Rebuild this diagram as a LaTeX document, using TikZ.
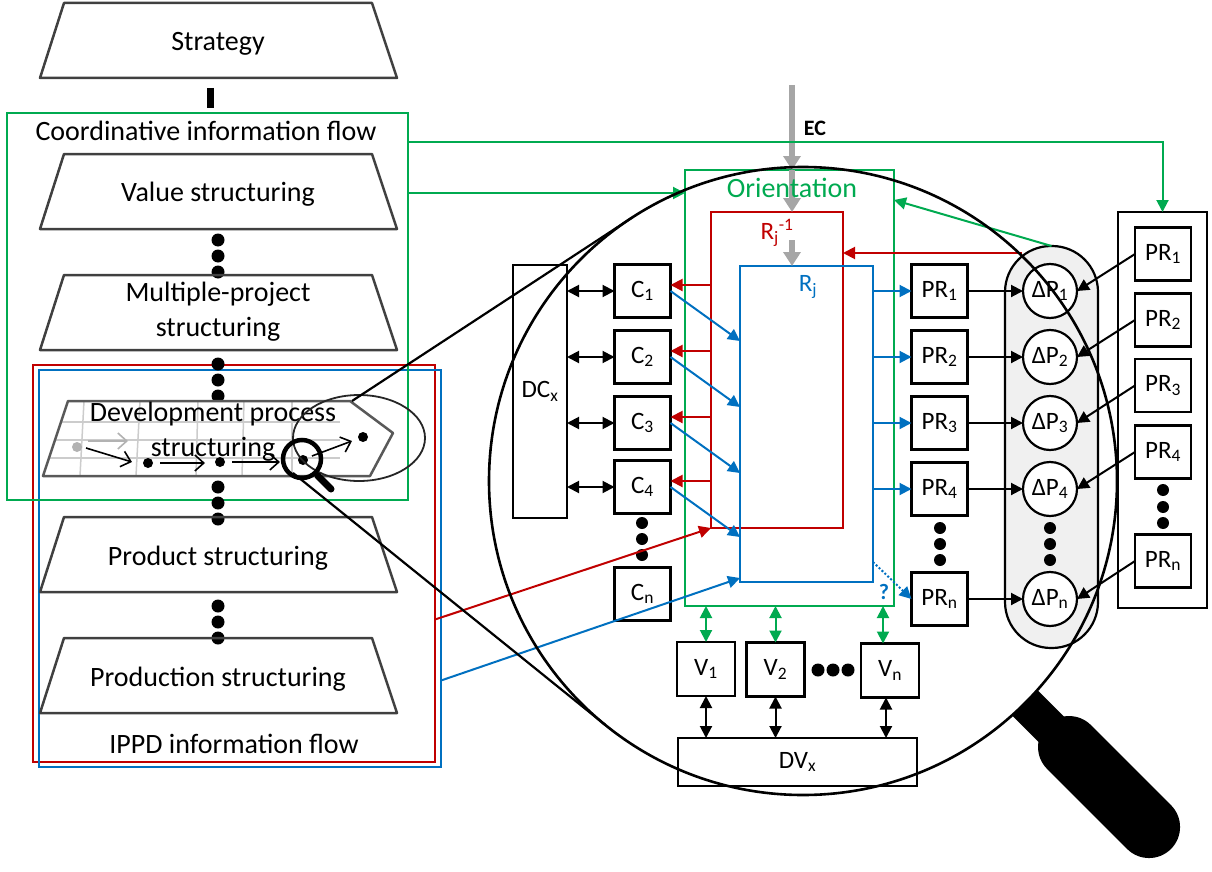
\documentclass[tikz,border=0pt]{standalone}
\usepackage{fontspec}
\setmainfont{Carlito}
\usetikzlibrary{arrows.meta}
\definecolor{flowgreen}{RGB}{0,170,80}
\definecolor{flowred}{RGB}{192,0,0}
\definecolor{flowblue}{RGB}{0,112,192}
\definecolor{ecgray}{RGB}{166,166,166}
% one level of the structuring stack: name, top y, text y, text
\newcommand{\levelshape}[4]{%
  \draw[levelline] (64,#2) -- (372,#2) -- (397,#2+75) -- (40,#2+75) -- cycle;
  \node[biglbl] (#1) at (218,#3) {#4};}

\begin{document}
\begin{tikzpicture}[x=1pt,y=-1pt,
  biglbl/.style={font=\fontsize{28}{35}\selectfont,align=center,inner sep=0pt},
  boxfont/.style={font=\fontsize{25}{29}\selectfont},
  smallbox/.style={draw,line width=2.2pt,minimum width=56pt,minimum height=53pt,inner sep=0pt,outer sep=0pt,boxfont},
  panel/.style={draw,line width=2.2pt,inner sep=0pt,outer sep=0pt},
  delta/.style={circle,draw,line width=2.2pt,fill=white,minimum size=54pt,inner sep=0pt,outer sep=0pt,boxfont},
  levelline/.style={draw=black!75,line width=2.5pt,line join=round},
  bigdot/.style={circle,fill,inner sep=0pt,minimum size=13pt},
  link/.style={line width=2pt},
  oneway/.style={-{Triangle[length=12pt,width=12pt]}},
  twoway/.style={{Triangle[length=12pt,width=12pt]}-{Triangle[length=12pt,width=12pt]}},
  ecarrow/.style={draw=ecgray,line width=6pt,-{Triangle[length=14pt,width=17pt]}},
  sketch/.style={line width=1.6pt,-{Straight Barb[length=9pt,width=16pt]}}]
\useasboundingbox (0,0) rectangle (1212,872);

% left stack
\node[panel,draw=flowred,minimum width=402pt,minimum height=397pt] (ippdred) at (234,563.5) {};
\node[panel,draw=flowblue,minimum width=402pt,minimum height=397pt] (ippdblue) at (240,568.5) {};
\node[biglbl] (ippd) at (234,744) {IPPD information flow};
\node[panel,draw=flowgreen,minimum width=401pt,minimum height=387pt] (coordbox) at (207.5,306.5) {};
\node[biglbl] (coord) at (206,131) {Coordinative information flow};

\levelshape{strategy}{3}{44}{Strategy}
\coordinate (stratfoot) at (210,88);
\coordinate (coordhead) at (210,108);
\draw[line width=7pt] (stratfoot) -- (coordhead);
\levelshape{value}{154}{194}{Value structuring}
\foreach \y in {240,256,272} \node[bigdot] (vdot\y) at (218,\y) {};
\levelshape{multi}{275}{312}{Multiple-project\\structuring}
\foreach \y in {364,380,396} \node[bigdot] (mdot\y) at (218,\y) {};

% development process level with its little process sketch
\fill[white] (68,401) -- (350,401) -- (393,433) -- (370,476) -- (43,476) -- cycle;
\foreach \y/\xl in {422/61,440/55,458/49}
  \draw[black!20,line width=1.5pt] (\xl,\y) -- (340,\y);
\foreach \xa/\xb in {84/80,140/136,198/196,244/242,292/292}
  \draw[black!20,line width=1.5pt] (\xa,401) -- (\xb,476);
\draw[black!65,line width=2.5pt,line join=round] (68,401) -- (350,401) -- (393,433) -- (370,476) -- (43,476) -- cycle;
\fill[black!30] (77,447) circle (5);
\draw[sketch,black!30] (88,441) -- (128,441);
\draw[sketch] (86,448) -- (132,462);
\fill (148,463) circle (5);
\draw[sketch] (160,463) -- (205,463);
\fill (220,462) circle (5);
\draw[sketch] (232,462) -- (280,462);
\fill (303,460) circle (5);
\draw[sketch] (312,456) -- (352,441);
\fill (363,437) circle (5);
\node[biglbl] (devproc) at (213,432) {Development process\\structuring};
\draw[line width=1.8pt,black!85] (359,438) ellipse [x radius=66, y radius=43];
\draw[line width=4.5pt] (302,459) circle (19);
\draw[line width=7pt,line cap=round] (318,476) -- (331,489);

\foreach \y in {487,503,519} \node[bigdot] (ddot\y) at (218,\y) {};
\levelshape{product}{517}{558}{Product structuring}
\foreach \y in {606,622,638} \node[bigdot] (pdot\y) at (218,\y) {};
\levelshape{production}{638}{679}{Production structuring}

% orientation and reference frames
\coordinate (ecsrc) at (792,85);
\coordinate (ecmid) at (792,240);
\node[panel,draw=flowgreen,line width=2.2pt,minimum width=209pt,minimum height=436pt] (orient) at (789.5,388) {};
\node[panel,draw=flowred,line width=2.2pt,minimum width=132pt,minimum height=316pt] (rinv) at (777,370) {};
\node[panel,draw=flowblue,line width=2.2pt,minimum width=133pt,minimum height=316pt] (rj) at (806.5,424) {};
\draw[ecarrow] (ecsrc) -- (ecsrc |- orient.north);
\draw[ecarrow] (ecsrc |- orient.north) -- (ecsrc |- rinv.north);
\draw[ecarrow] (ecmid) -- (ecmid |- rj.north);
\node[font=\bfseries\fontsize{22}{26}\selectfont] (ec) at (815,128) {EC};
\node[biglbl,text=flowgreen] (orientlbl) at (792,188) {Orientation};
\node[boxfont,text=flowred] (rinvlbl) at (777,233) {R\textsubscript{j}\textsuperscript{-1}};
\node[boxfont,text=flowblue] (rjlbl) at (808,287) {R\textsubscript{j}};

% design constraints
\node[panel,minimum width=54pt,minimum height=253pt,boxfont] (dcx) at (540,391.5) {DC\textsubscript{x}};
\foreach \i/\y in {1/291,2/357,3/423,4/487}
  \node[smallbox] (c\i) at (642.5,\y) {C\textsubscript{\i}};
\node[smallbox] (cn) at (642.5,594) {C\textsubscript{n}};
\foreach \y in {523,539,555} \node[bigdot,minimum size=12pt] (cdot\y) at (642,\y) {};
\foreach \i in {1,2,3,4} {
  \draw[link,twoway] (dcx.east |- c\i) -- (c\i.west);
  \path (c\i.east) ++(0,-6) coordinate (cr\i);
  \draw[link,oneway,flowred] (rinv.west |- cr\i) -- (cr\i);
  \path (c\i.east) ++(0,50) coordinate (cb\i);
  \draw[link,oneway,flowblue] (c\i.east) -- (rj.west |- cb\i);
}

% properties and deviations
\node[panel,fill=black!6,rounded corners=46pt,minimum width=93pt,minimum height=402pt] (dpcol) at (1051.5,447) {};
\foreach \i/\y in {1/291,2/357,3/423,4/489} {
  \node[smallbox] (pr\i) at (939.5,\y) {PR\textsubscript{\i}};
  \node[delta] (dp\i) at (1050,\y) {ΔP\textsubscript{\i}};
}
\node[smallbox] (prn) at (939.5,599) {PR\textsubscript{n}};
\node[delta] (dpn) at (1050,599) {ΔP\textsubscript{n}};
\foreach \y in {528,544,560} {
  \node[bigdot,minimum size=12pt] (prdot\y) at (940,\y) {};
  \node[bigdot,minimum size=12pt] (dpdot\y) at (1050,\y) {};
}
\node[panel,minimum width=89pt,minimum height=396pt] (reqcol) at (1162.5,410) {};
\foreach \i/\y in {1/254,2/320,3/385.5,4/452}
  \node[smallbox] (rq\i) at (1163,\y) {PR\textsubscript{\i}};
\node[smallbox] (rqn) at (1163,561) {PR\textsubscript{n}};
\foreach \y in {490,507,523} \node[bigdot,minimum size=12pt] (rqdot\y) at (1163,\y) {};

\foreach \i in {1,2,3,4,n} {
  \draw[link,oneway] (pr\i.east) -- (dp\i.west);
  \draw[link,oneway] (rq\i.west) -- (dp\i.east);
}
\foreach \i in {1,2,3,4}
  \draw[link,oneway,flowblue] (rj.east |- pr\i) -- (pr\i.west);
\path (rj.south east) ++(0,-20) coordinate (rjq);
\draw[link,oneway,flowblue,dotted] (rjq) -- (prn.west);
\node[font=\bfseries\fontsize{22}{26}\selectfont,text=flowblue] (qmark) at (884,592) {?};

% feedback and flows
\coordinate (dpred) at (1022,253);
\draw[link,oneway,flowred] (dpred) -- (rinv.east |- dpred);
\path (orient.north east) ++(0,30) coordinate (orin);
\draw[link,oneway,flowgreen] (dpcol.north) -- (orin);
\path (coordbox.north east) ++(0,29) coordinate (cf1);
\draw[link,oneway,flowgreen] (cf1) -| (reqcol.north);
\path (coordbox.north east) ++(0,80) coordinate (cf2);
\draw[link,oneway,flowgreen] (cf2) -- (orient.west |- cf2);
\path (ippdred.east) ++(0,56) coordinate (ir);
\draw[link,oneway,flowred] (ir) -- (rinv.south west);
\path (ippdblue.east) ++(0,112) coordinate (ib);
\path (rj.south west) ++(0,-4) coordinate (rjin);
\draw[link,oneway,flowblue] (ib) -- (rjin);

% variants
\node[smallbox,minimum width=58pt,minimum height=54pt] (v1) at (706,669) {V\textsubscript{1}};
\node[smallbox,minimum width=58pt,minimum height=54pt] (v2) at (775.5,669.5) {V\textsubscript{2}};
\node[smallbox,minimum width=58pt,minimum height=54pt] (vn) at (890,670.5) {V\textsubscript{n}};
\foreach \x in {818,833,848} \node[bigdot] (vdot\x) at (\x,670) {};
\node[smallbox,minimum width=239pt,minimum height=48pt] (dvx) at (797.5,762) {DV\textsubscript{x}};
\foreach \v in {v1,v2} {
  \draw[link,twoway,flowgreen] (orient.south -| \v) -- (\v.north);
  \draw[link,twoway] (\v.south) -- (dvx.north -| \v);
}
\path (vn.north) ++(-7,0) coordinate (vnin);
\draw[link,twoway,flowgreen] (orient.south -| vnin) -- (vnin);
\path (vn.south) ++(-4,0) coordinate (vnout);
\draw[link,twoway] (vnout) -- (dvx.north -| vnout);

% magnifying glass
\node[circle,draw,line width=2.6pt,minimum size=628pt,inner sep=0pt,outer sep=0pt] (lens) at (803,481) {};
\coordinate (zoomtop) at (352,401);
\coordinate (zoombot) at (293,473);
\draw[line width=2.2pt] (zoomtop) -- (lens.123);
\draw[line width=2.2pt] (zoombot) -- (lens.231);
\coordinate (grip) at (lens.-45);
\draw[line width=36pt] (grip) -- ([shift={(28,28)}]grip);
\draw[line width=62pt,line cap=round] ([shift={(44,44)}]grip) -- ([shift={(124,124)}]grip);
\end{tikzpicture}
\end{document}
